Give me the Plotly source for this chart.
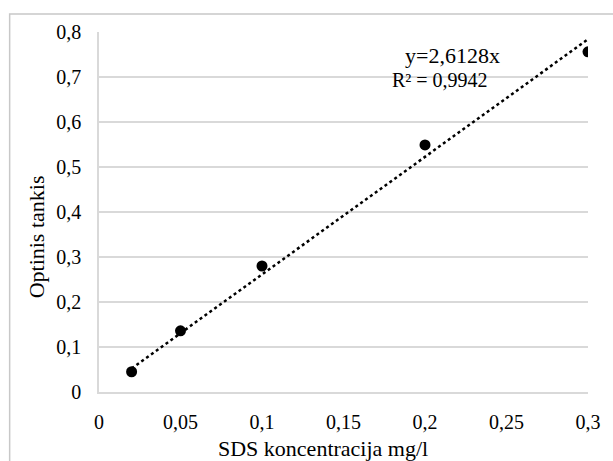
import plotly.graph_objects as go

# Measured SDS concentrations (mg/l) and optical density readings
concentration = [0.02, 0.05, 0.1, 0.2, 0.3]
optical_density = [0.045, 0.136, 0.28, 0.549, 0.756]

# Linear fit through the origin
slope = 2.6128
r_squared = 0.9942
fit_x = [concentration[0], concentration[-1]]
fit_y = [slope * v for v in fit_x]

x_ticks = [0, 0.05, 0.1, 0.15, 0.2, 0.25, 0.3]
y_ticks = [0, 0.1, 0.2, 0.3, 0.4, 0.5, 0.6, 0.7, 0.8]

FONT = "'Liberation Serif', 'Times New Roman', serif"
GRID = "#d9d9d9"

fig = go.Figure()
fig.add_trace(go.Scatter(
    x=fit_x, y=fit_y, mode="lines",
    line=dict(color="black", width=2.5, dash="dot"),
    hoverinfo="skip", showlegend=False,
))
fig.add_trace(go.Scatter(
    x=concentration, y=optical_density, mode="markers",
    marker=dict(color="black", size=11),
    showlegend=False,
))

fig.update_layout(
    width=613, height=461,
    margin=dict(l=99, r=16, t=32, b=69),
    paper_bgcolor="white", plot_bgcolor="white",
    separators=", ",
    font=dict(family=FONT, size=20, color="black"),
    xaxis=dict(
        range=[0, 0.3], tickvals=x_ticks, showgrid=False, zeroline=False,
        showline=True, linecolor=GRID, linewidth=1.5,
        ticks="", ticklabelstandoff=11,
        tickfont=dict(family=FONT, size=20, color="black"),
    ),
    yaxis=dict(
        range=[0, 0.8], tickvals=y_ticks, showgrid=True, gridcolor=GRID,
        gridwidth=1.5, zeroline=False,
        showline=True, linecolor=GRID, linewidth=1.5,
        ticks="", ticklabelstandoff=12,
        tickfont=dict(family=FONT, size=20, color="black"),
    ),
    annotations=[
        dict(text="y=2,6128x", x=0.2171, y=0.748, xref="x", yref="y",
             xanchor="center", yanchor="middle",
             showarrow=False, font=dict(family=FONT, size=22)),
        dict(text="R² = 0,9942", x=0.2095, y=0.694, xref="x", yref="y",
             xanchor="center", yanchor="middle",
             showarrow=False, font=dict(family=FONT, size=20)),
        dict(text="Optinis tankis", x=-0.1285, y=0.43, xref="paper", yref="paper",
             xanchor="center", yanchor="middle",
             textangle=-90, showarrow=False, font=dict(family=FONT, size=22)),
        dict(text="SDS koncentracija mg/l", x=0.459, y=-0.156, xref="paper",
             yref="paper", xanchor="center", yanchor="middle",
             showarrow=False, font=dict(family=FONT, size=22)),
    ],
    shapes=[
        dict(type="rect", xref="paper", yref="paper",
             x0=-0.1827, x1=1.2, y0=-0.3, y1=1.05,
             line=dict(color="#c8c8c8", width=1.5), fillcolor="rgba(0,0,0,0)",
             layer="below"),
    ],
)

fig.write_html("out.html")
